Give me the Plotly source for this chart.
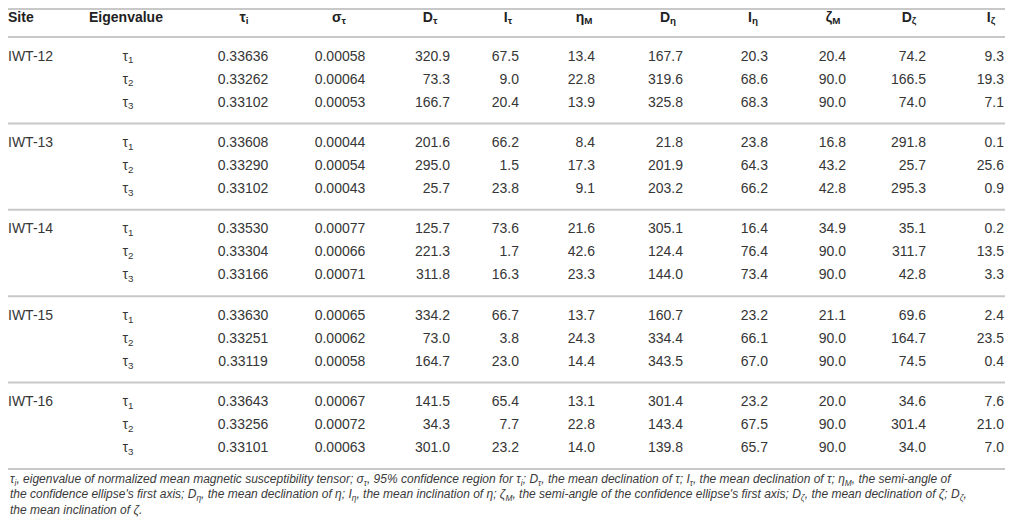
import plotly.graph_objects as go

sites = ["IWT-12", "IWT-13", "IWT-14", "IWT-15", "IWT-16"]
eigen = ["τ<sub>1</sub>", "τ<sub>2</sub>", "τ<sub>3</sub>"]

headers = ["Site", "Eigenvalue", "τ<sub>i</sub>", "σ<sub>τ</sub>", "D<sub>τ</sub>", "I<sub>τ</sub>",
           "η<sub>M</sub>", "D<sub>η</sub>", "I<sub>η</sub>", "ζ<sub>M</sub>", "D<sub>ζ</sub>", "I<sub>ζ</sub>"]

tau_i = [0.33636, 0.33262, 0.33102, 0.33608, 0.33290, 0.33102, 0.33530, 0.33304, 0.33166,
         0.33630, 0.33251, 0.33119, 0.33643, 0.33256, 0.33101]
sigma_tau = [0.00058, 0.00064, 0.00053, 0.00044, 0.00054, 0.00043, 0.00077, 0.00066, 0.00071,
             0.00065, 0.00062, 0.00058, 0.00067, 0.00072, 0.00063]
D_tau = [320.9, 73.3, 166.7, 201.6, 295.0, 25.7, 125.7, 221.3, 311.8, 334.2, 73.0, 164.7, 141.5, 34.3, 301.0]
I_tau = [67.5, 9.0, 20.4, 66.2, 1.5, 23.8, 73.6, 1.7, 16.3, 66.7, 3.8, 23.0, 65.4, 7.7, 23.2]
eta_M = [13.4, 22.8, 13.9, 8.4, 17.3, 9.1, 21.6, 42.6, 23.3, 13.7, 24.3, 14.4, 13.1, 22.8, 14.0]
D_eta = [167.7, 319.6, 325.8, 21.8, 201.9, 203.2, 305.1, 124.4, 144.0, 160.7, 334.4, 343.5, 301.4, 143.4, 139.8]
I_eta = [20.3, 68.6, 68.3, 23.8, 64.3, 66.2, 16.4, 76.4, 73.4, 23.2, 66.1, 67.0, 23.2, 67.5, 65.7]
zeta_M = [20.4, 90.0, 90.0, 16.8, 43.2, 42.8, 34.9, 90.0, 90.0, 21.1, 90.0, 90.0, 20.0, 90.0, 90.0]
D_zeta = [74.2, 166.5, 74.0, 291.8, 25.7, 295.3, 35.1, 311.7, 42.8, 69.6, 164.7, 74.5, 34.6, 301.4, 34.0]
I_zeta = [9.3, 19.3, 7.1, 0.1, 25.6, 0.9, 0.2, 13.5, 3.3, 2.4, 23.5, 0.4, 7.6, 21.0, 7.0]

footnote_lines = [
    "τ<sub>i</sub>, eigenvalue of normalized mean magnetic susceptibility tensor; σ<sub>τ</sub>, 95% confidence "
    "region for τ<sub>i</sub>; D<sub>τ</sub>, the mean declination of τ; I<sub>τ</sub>, the mean declination "
    "of τ; η<sub>M</sub>, the semi-angle of",
    "the confidence ellipse's first axis; D<sub>η</sub>, the mean declination of η; I<sub>η</sub>, the mean "
    "inclination of η; ζ<sub>M</sub>, the semi-angle of the confidence ellipse's first axis; D<sub>ζ</sub>, "
    "the mean declination of ζ; D<sub>ζ</sub>,",
    "the mean inclination of ζ.",
]

# ---- layout of the table (page pixels; the plot sits inside the 8px body margin) ----
W, H = 997, 510
X0, Y0 = 8, 8
FONT = "Liberation Sans"
TXT = "#363636"
LINE = "#c8c8c8"
FS = 14
head_y = 18
first_row = 57
group_step = 86.4
row_step = 23
line_ys = [Y0 + 1] + [37 + group_step * g for g in range(6)]
foot_ys = [480, 495, 510]

# header x, header align, value x, value align
col_pos = [
    (X0, "middle right", X0, "middle right"),
    (126, "middle center", 128, "middle center"),
    (244, "middle center", 243, "middle center"),
    (339, "middle center", 340, "middle center"),
    (430, "middle center", 450, "middle left"),
    (508, "middle center", 519, "middle left"),
    (584, "middle center", 595, "middle left"),
    (668, "middle center", 683, "middle left"),
    (753, "middle center", 768, "middle left"),
    (833, "middle center", 846, "middle left"),
    (909, "middle center", 926, "middle left"),
    (991, "middle center", 1004, "middle left"),
]

row_y = [first_row + group_step * g + row_step * r for g in range(len(sites)) for r in range(3)]

columns = [
    (sites, [first_row + group_step * g for g in range(len(sites))]),
    ([e for _ in sites for e in eigen], row_y),
    (["%.5f" % v for v in tau_i], row_y),
    (["%.5f" % v for v in sigma_tau], row_y),
]
for vals in [D_tau, I_tau, eta_M, D_eta, I_eta, zeta_M, D_zeta, I_zeta]:
    columns.append((["%.1f" % v for v in vals], row_y))

fig = go.Figure()

# header
for (hx, hpos, vx, vpos), h in zip(col_pos, headers):
    fig.add_trace(go.Scatter(x=[hx], y=[head_y], mode="text", text=["<b>" + h + "</b>"],
                             textposition=hpos, cliponaxis=False,
                             textfont=dict(family=FONT, size=FS, color="#222222"),
                             hoverinfo="skip", showlegend=False))

# body
for (hx, hpos, vx, vpos), (txt, ys) in zip(col_pos, columns):
    fig.add_trace(go.Scatter(x=[vx] * len(txt), y=ys, mode="text", text=txt,
                             textposition=vpos, cliponaxis=False,
                             textfont=dict(family=FONT, size=FS, color=TXT),
                             hoverinfo="skip", showlegend=False))

for ly in line_ys:
    fig.add_shape(type="line", x0=X0, x1=X0 + W, y0=ly, y1=ly, xref="x", yref="y",
                  line=dict(color=LINE, width=2))

for fy, line in zip(foot_ys, footnote_lines):
    fig.add_annotation(x=X0, y=fy, xref="x", yref="y", xanchor="left", yanchor="middle", align="left",
                       showarrow=False, text="<i>" + line + "</i>",
                       font=dict(family=FONT, size=12, color="#3a3a3a"))

fig.update_xaxes(range=[X0, X0 + W], visible=False, fixedrange=True)
fig.update_yaxes(range=[Y0 + H, Y0], visible=False, fixedrange=True)
fig.update_layout(width=W, height=H, margin=dict(l=0, r=0, t=0, b=0),
                  plot_bgcolor="white", paper_bgcolor="white")

fig.write_html("out.html")
